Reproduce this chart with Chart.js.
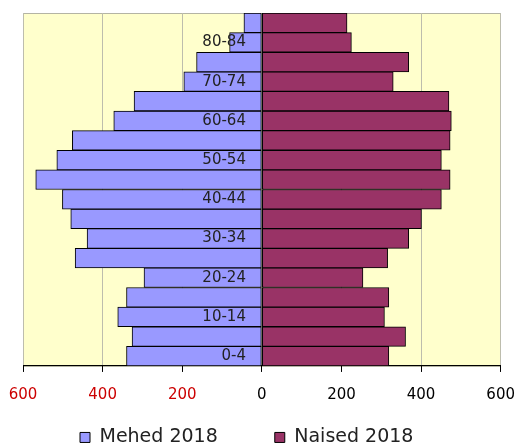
<!DOCTYPE html>
<html>
<head>
<meta charset="utf-8">
<script src="https://cdn.jsdelivr.net/npm/chart.js@4/dist/chart.umd.min.js"></script>
<style>
html,body{margin:0;padding:0;background:#fff;}
canvas{display:block;}
</style>
</head>
<body>
<canvas id="c" width="518" height="445"></canvas>
<script>
// Age groups, youngest first (drawn bottom to top)
const ageGroups = ['0-4','5-9','10-14','15-19','20-24','25-29','30-34','35-39','40-44','45-49','50-54','55-59','60-64','65-69','70-74','75-79','80-84','85+'];
const maleValues   = [340, 326, 362, 340, 296, 469, 439, 480, 501, 568, 515, 476, 372, 321, 196, 164, 81, 45];
const femaleValues = [319, 361, 308, 319, 254, 316, 369, 401, 451, 473, 451, 473, 476, 470, 330, 369, 225, 214];
const seriesLabels = ['Mehed 2018', 'Naised 2018'];
const xMin = -600, xMax = 600, xStep = 200;

const plotBg = {
  id: 'plotBg',
  beforeDraw(chart) {
    const {ctx, chartArea: a} = chart;
    ctx.save();
    ctx.fillStyle = '#ffffcc';
    ctx.fillRect(a.left, a.top, a.right - a.left, a.bottom - a.top);
    ctx.strokeStyle = '#b4b4a4';
    ctx.lineWidth = 1;
    ctx.strokeRect(Math.round(a.left) + 0.5, Math.round(a.top) + 0.5, Math.round(a.right - a.left) - 1, Math.round(a.bottom - a.top));
    ctx.restore();
  }
};

// Move the legend row up and give it room (its wide label padding would otherwise push it off the canvas)
const legendShift = {
  id: 'legendShift',
  afterLayout(chart) {
    const lg = chart.legend;
    if (!lg) return;
    lg.top = chart.chartArea.bottom + 5;
    lg.bottom = chart.height + 20;
    lg.height = lg.bottom - lg.top;
  }
};

new Chart(document.getElementById('c'), {
  type: 'bar',
  data: {
    labels: ageGroups,
    datasets: [
      {
        label: seriesLabels[0],
        data: maleValues.map(v => -v),
        backgroundColor: '#9999ff',
        borderColor: '#000000',
        borderWidth: 1,
        borderSkipped: false,
        barPercentage: 1,
        categoryPercentage: 1
      },
      {
        label: seriesLabels[1],
        data: femaleValues,
        backgroundColor: '#993366',
        borderColor: '#000000',
        borderWidth: 1,
        borderSkipped: false,
        barPercentage: 1,
        categoryPercentage: 1
      }
    ]
  },
  options: {
    indexAxis: 'y',
    responsive: false,
    animation: false,
    layout: { padding: { left: 23, right: 17, top: 13, bottom: 0 } },
    scales: {
      x: {
        stacked: true,
        min: xMin,
        max: xMax,
        ticks: {
          stepSize: xStep,
          padding: 3,
          font: { family: 'DejaVu Sans', size: 15, lineHeight: 2.67 },
          color: (ctx) => (ctx.tick && ctx.tick.value < 0) ? '#cc0000' : '#000000',
          callback: (v) => Math.abs(v)
        },
        grid: { color: '#bdbdad', tickColor: '#000000', tickLength: 6, lineWidth: 1 },
        border: { color: '#000000', width: 1 }
      },
      y: {
        type: 'category',
        stacked: true,
        reverse: true,
        position: { x: -40 },
        grid: { display: false },
        border: { display: false },
        ticks: {
          z: 1,
          autoSkip: false,
          font: { family: 'DejaVu Sans', size: 15 },
          color: '#222222',
          callback: function(val, idx) { return idx % 2 === 0 ? ageGroups[idx] : ''; }
        }
      }
    },
    plugins: {
      tooltip: { enabled: false },
      legend: {
        position: 'bottom',
        align: 'start',
        maxHeight: 27,
        labels: {
          boxWidth: 10,
          boxHeight: 10,
          padding: 57,
          color: '#222222',
          font: { family: 'DejaVu Sans', size: 19 }
        }
      }
    }
  },
  plugins: [plotBg, legendShift]
});
</script>
</body>
</html>
